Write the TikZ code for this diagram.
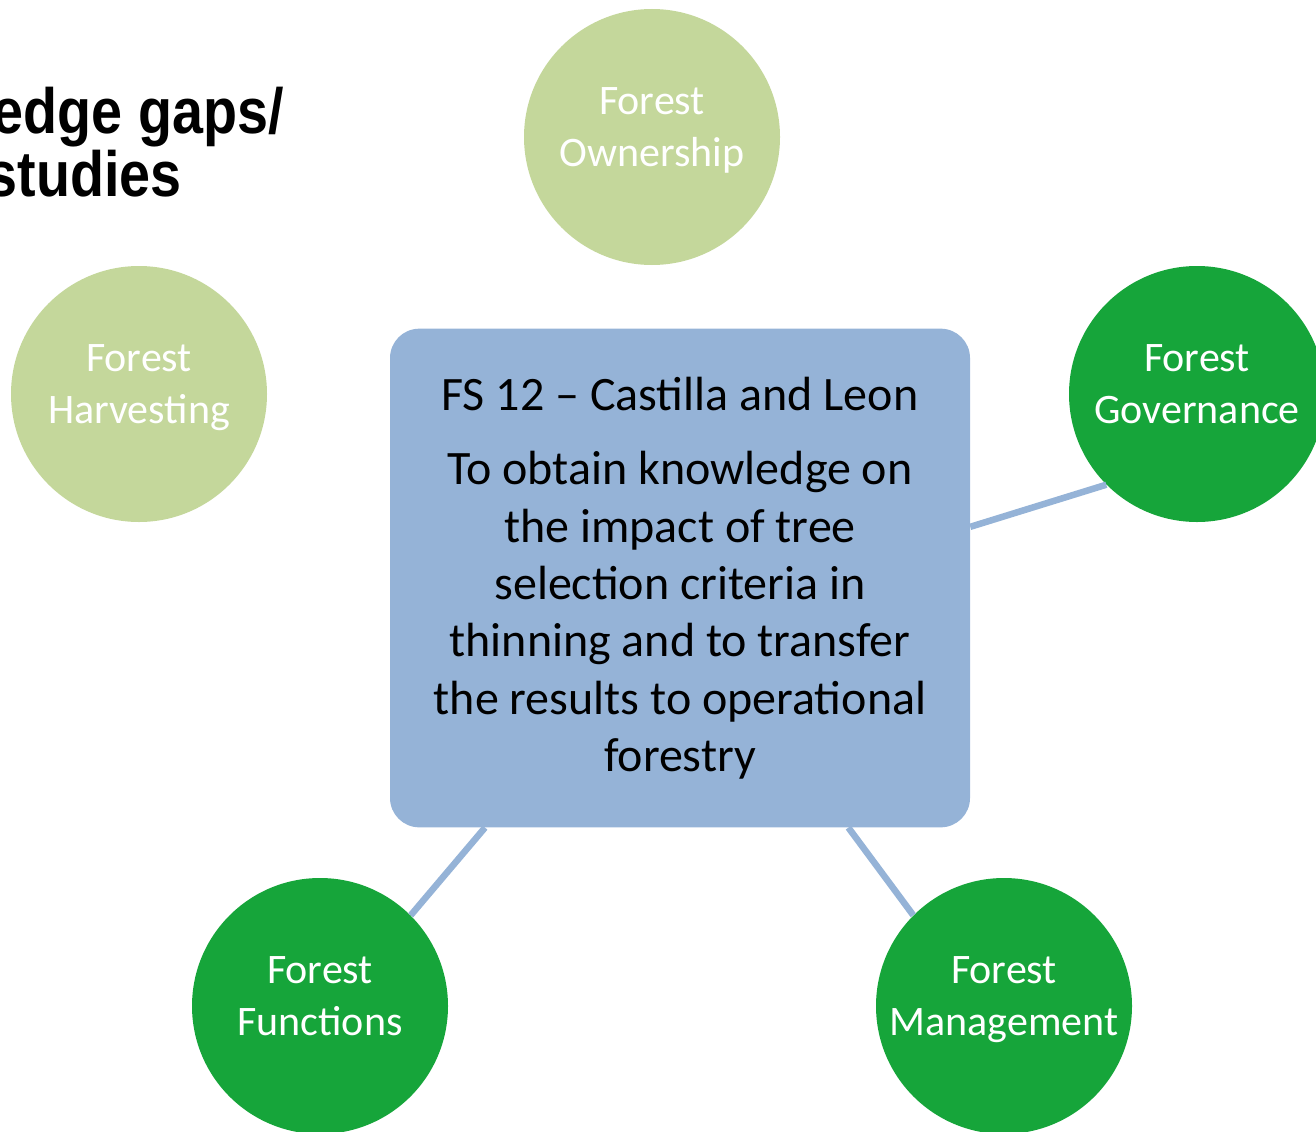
\documentclass[tikz,border=0pt]{standalone}
\usepackage{fontspec}
\setmainfont{Carlito}
\newfontfamily\headfont{Liberation Sans}
\usepackage{graphicx}
\usepackage{tikz}

\definecolor{studyblue}{HTML}{95B3D7}
\definecolor{palegreen}{HTML}{C4D79B}
\definecolor{deepgreen}{HTML}{16A53A}

\newcommand{\squeeze}[1]{\scalebox{0.87}[1]{#1}}

\tikzset{
	theme/.style={circle, minimum size=192pt, inner sep=0pt, align=center,
		text=white, text depth=15pt, font=\fontsize{31.5}{38.5}\selectfont},
	faded/.style={theme, fill=palegreen},
	active/.style={theme, fill=deepgreen},
	study/.style={rectangle, rounded corners=22pt, fill=studyblue,
		minimum width=435pt, minimum height=374pt, align=center,
		font=\fontsize{36}{43}\selectfont},
	link/.style={draw=studyblue, line width=4.9pt},
	heading/.style={anchor=base east, inner sep=0pt,
		font=\headfont\bfseries\fontsize{48}{48}\selectfont}
}

\begin{document}
\begin{tikzpicture}[x=0.75pt, y=-0.75pt]
	\useasboundingbox (0,0) rectangle (1316,1131);

	\node[heading] (head1) at (284,133) {\squeeze{edge gaps/}};
	\node[heading] (head2) at (182,196) {\squeeze{studies}};

	\node[study] (fs) at (680,578) {FS 12 \textendash{} Castilla and Leon\\[13pt]
		To obtain knowledge on\\ the impact of tree\\ selection criteria in\\
		thinning and to transfer\\ the results to operational\\ forestry};

	\node[faded] (own) at (652,137) {Forest\\ Ownership}; %
	\node[faded] (harv) at (139,394) {Forest\\ Harvesting};
	\node[active] (gov) at (1197,394) {Forest\\ Governance}; %
	\node[active] (func) at (320,1006) {Forest\\ Functions};
	\node[active] (mgmt) at (1004,1006) {Forest\\ Management};

	\draw[link] (fs.10) -- (gov.225); %
	\draw[link] (fs.232) -- (func.45);
	\draw[link] (fs.-56) -- (mgmt.135);

\end{tikzpicture}
\end{document}
